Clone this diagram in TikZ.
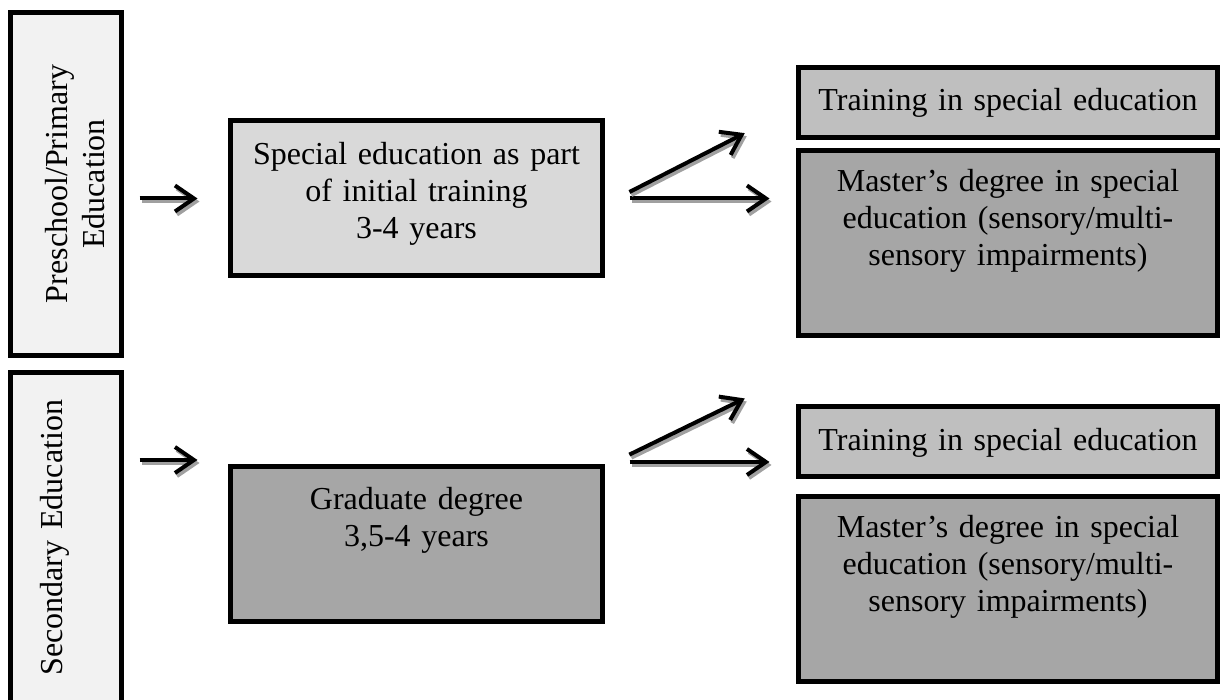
\documentclass[tikz,border=0pt]{standalone}
\usepackage{fontspec}
\setmainfont{Liberation Serif}
\usepackage{tikz}
\usetikzlibrary{arrows.meta,calc}
\definecolor{paleGray}{HTML}{F2F2F2}
\definecolor{lightGray}{HTML}{D9D9D9}
\definecolor{midGray}{HTML}{BFBFBF}
\definecolor{darkGray}{HTML}{A6A6A6}
\definecolor{shadowGray}{HTML}{A0A0A0}
\tikzstyle{levelbox} = [rectangle, draw=black, line width=2.5pt, inner sep=0pt, align=center, fill=paleGray, rotate=90, font=\fontsize{16}{18.5}\selectfont]
\tikzstyle{routebox} = [rectangle, draw=black, line width=2.5pt, inner sep=0pt, align=center, anchor=north, text width=186pt, font=\fontsize{16}{18.5}\selectfont]
\tikzstyle{optionbox} = [rectangle, draw=black, line width=2.5pt, inner sep=0pt, align=center, anchor=north, text width=209.5pt, font=\fontsize{16}{18.5}\selectfont]
\tikzstyle{arrow} = [line width=2pt, -{Straight Barb[length=9.5pt,width=13pt]}, preaction={draw=shadowGray, line width=2pt, -{Straight Barb[length=9.5pt,width=13pt]}, transform canvas={xshift=1pt,yshift=-1.5pt}}]
\begin{document}
\begin{tikzpicture}[x=0.5pt,y=0.5pt]
    \useasboundingbox (0,0) rectangle (1221,700);

    % school levels (rotated)
    \node (pre) [levelbox, text width=171.5pt, text height=28.25pt, text depth=27.25pt] at (66,516) {Preschool/Primary\\Education};
    \node (sec) [levelbox, text width=165.25pt, text height=26.25pt, text depth=29.25pt] at (66,162.25) {Secondary Education};

    % initial training
    \node (mid1) [routebox, fill=lightGray, text height=21.75pt, text depth=55.75pt] at (416.5,581.5) {Special education as part\\of initial training\\3-4 years};
    \node (mid2) [routebox, fill=darkGray, text height=21.25pt, text depth=56.25pt] at (416.5,235.5) {Graduate degree\\3,5-4 years};

    % further options
    \node (tr1) [optionbox, fill=midGray, text height=21.25pt, text depth=13.75pt] at (1008,634.5) {Training in special education};
    \node (tr2) [optionbox, fill=darkGray, text height=20.25pt, text depth=72.25pt] at (1008,551.5) {Master’s degree in special\\education (sensory/multi-\\sensory impairments)};
    \node (br1) [optionbox, fill=midGray, text height=21.75pt, text depth=13.25pt] at (1008,295.5) {Training in special education};
    \node (br2) [optionbox, fill=darkGray, text height=20.25pt, text depth=72.25pt] at (1008,205.5) {Master’s degree in special\\education (sensory/multi-\\sensory impairments)};

    \draw[arrow, shorten <=7.75pt, shorten >=15.25pt] (pre.south |- mid1.west) -- (mid1.west);
    \draw[arrow, shorten <=7.75pt, shorten >=15.25pt] ($(sec.south |- mid2.north west)+(0,2.25pt)$) -- ([yshift=2.25pt]mid2.north west);

    \draw[arrow, shorten <=12.25pt, shorten >=13.25pt] (mid1.east) -- (mid1.east -| tr2.west);
    \draw[arrow, shorten <=13.7pt, shorten >=28.75pt] ([yshift=-3pt]mid1.east) -- ([yshift=-2pt]tr1.west);

    \draw[arrow, shorten <=12.25pt, shorten >=13.25pt] ([yshift=1.25pt]mid2.north east) -- ($(mid2.north east -| br2.west)+(0,1.25pt)$);
    \draw[arrow, shorten <=13.55pt, shorten >=28.5pt] ([yshift=-1pt]mid2.north east) -- ([yshift=15.5pt]br1.north west);
\end{tikzpicture}
\end{document}
